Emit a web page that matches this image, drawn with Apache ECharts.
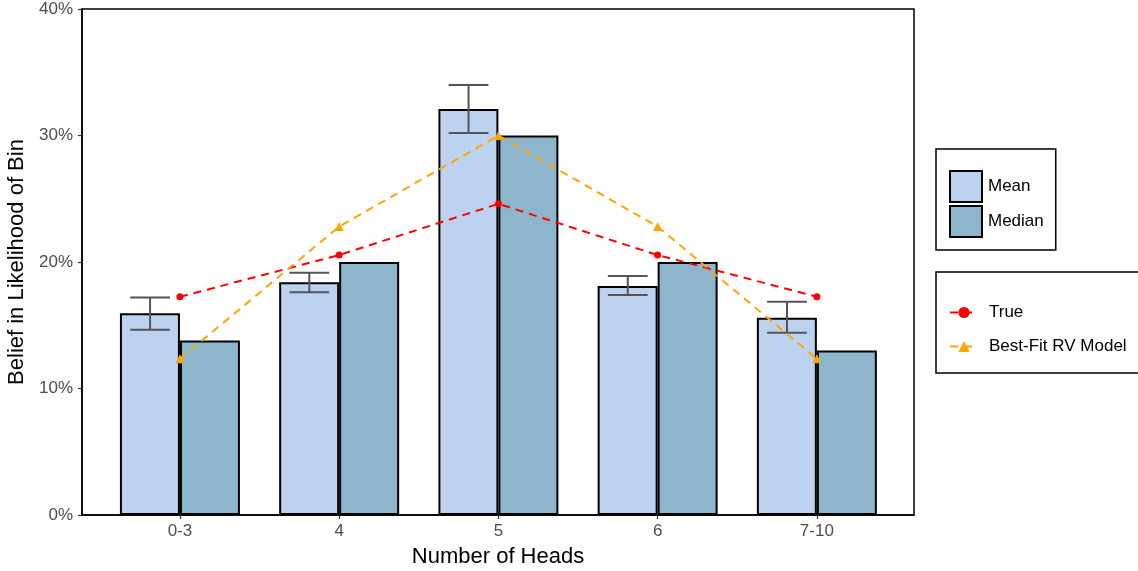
<!DOCTYPE html>
<html><head><meta charset="utf-8">
<script src="https://cdn.jsdelivr.net/npm/echarts@6/dist/echarts.min.js"></script>
<style>html,body{margin:0;padding:0;background:#fff}#c{width:1138px;height:571px}</style>
</head><body><div id="c"></div>
<script>
var categories = ['0-3', '4', '5', '6', '7-10'];
var meanVals = [15.95, 18.4, 32.1, 18.1, 15.6];
var errHigh = [17.2, 19.15, 34.0, 18.9, 16.85];
var errLow = [14.65, 17.6, 30.2, 17.4, 14.4];
var medianVals = [13.8, 20.0, 30.0, 20.0, 13.0];
var trueVals = [17.25, 20.55, 24.6, 20.55, 17.25];
var fitVals = [12.35, 22.8, 30.0, 22.8, 12.35];
var yTicks = [0, 10, 20, 30, 40];

var pos = categories.map(function (c, i) { return i + 1; });
var DODGE = 0.1875;
var FONT = '"Liberation Sans", Arial, sans-serif';

var chart = echarts.init(document.getElementById('c'), null, {renderer: 'canvas'});
chart.setOption({
  animation: false,
  backgroundColor: '#fff',
  grid: {left: 82, right: 224, top: 9, bottom: 56, outerBoundsMode: 'none', containLabel: false,
    show: true, borderColor: '#000', borderWidth: 1.5, backgroundColor: 'transparent'},
  xAxis: {
    type: 'value', min: 0.385, max: 5.61,
    name: 'Number of Heads', nameLocation: 'middle', nameGap: 31,
    nameTextStyle: {fontFamily: FONT, fontSize: 22, color: '#000'},
    splitLine: {show: false},
    axisLine: {show: true, onZero: false, lineStyle: {color: '#000', width: 1.5}},
    axisTick: {show: true, customValues: pos, length: 4, lineStyle: {color: '#333', width: 1.2}},
    axisLabel: {customValues: pos, color: '#4d4d4d', fontFamily: FONT, fontSize: 17, margin: 8,
      formatter: function (v) { return categories[Math.round(v) - 1] || ''; }}
  },
  yAxis: {
    type: 'value', min: 0, max: 40, interval: 10,
    name: 'Belief in Likelihood of Bin', nameLocation: 'middle', nameGap: 41, nameRotate: 90,
    nameTextStyle: {fontFamily: FONT, fontSize: 22, color: '#000'},
    splitLine: {show: false},
    axisLine: {show: true, lineStyle: {color: '#000', width: 1.5}},
    axisTick: {show: true, length: 4, lineStyle: {color: '#333', width: 1.2}},
    axisLabel: {color: '#4d4d4d', fontFamily: FONT, fontSize: 17, margin: 9,
      customValues: yTicks, formatter: function (v) { return v + '%'; }}
  },
  legend: [
    {
      data: ['Mean', 'Median'], orient: 'vertical', left: 936, top: 149,
      padding: [21, 12, 12, 13], itemGap: 2, itemWidth: 32, itemHeight: 31,
      borderColor: '#000', borderWidth: 1.5, borderRadius: 0,
      textStyle: {fontFamily: FONT, fontSize: 17, color: '#000', padding: [4, 0, 0, 1]},
      icon: 'rect'
    },
    {
      data: ['True', 'Best-Fit RV Model'], orient: 'vertical', left: 936, top: 272,
      padding: [32, 40, 18, 13], itemGap: 17, itemWidth: 28, itemHeight: 14,
      borderColor: '#000', borderWidth: 1.5, borderRadius: 0,
      textStyle: {fontFamily: FONT, fontSize: 17, color: '#000', padding: [0, 0, 0, 6]}
    }
  ],
  series: [
    {
      name: 'Mean', type: 'bar', barWidth: 60, barGap: '0%',
      itemStyle: {color: '#BCD2EE', borderColor: '#000', borderWidth: 2},
      data: pos.map(function (p, i) { return [p, meanVals[i]]; })
    },
    {
      name: 'Median', type: 'bar', barWidth: 60, barGap: '0%',
      itemStyle: {color: '#8DB5CB', borderColor: '#000', borderWidth: 2},
      data: pos.map(function (p, i) { return [p, medianVals[i]]; })
    },
    {
      name: 'err', type: 'custom', z: 5,
      data: pos.map(function (p, i) { return [p - DODGE, errLow[i], errHigh[i]]; }),
      renderItem: function (params, api) {
        var x = api.value(0);
        var lo = api.coord([x, api.value(1)]);
        var hi = api.coord([x, api.value(2)]);
        var hw = api.size([0.125, 0])[0];
        var st = {stroke: '#555', lineWidth: 2};
        return {type: 'group', children: [
          {type: 'line', shape: {x1: lo[0], y1: lo[1], x2: hi[0], y2: hi[1]}, style: st},
          {type: 'line', shape: {x1: lo[0] - hw, y1: lo[1], x2: lo[0] + hw, y2: lo[1]}, style: st},
          {type: 'line', shape: {x1: hi[0] - hw, y1: hi[1], x2: hi[0] + hw, y2: hi[1]}, style: st}
        ]};
      }
    },
    {
      name: 'True', type: 'line', z: 6, symbol: 'circle', symbolSize: 7,
      lineStyle: {color: '#FF0000', width: 2, type: [8, 6]},
      itemStyle: {color: '#FF0000'},
      data: pos.map(function (p, i) { return [p, trueVals[i]]; })
    },
    {
      name: 'Best-Fit RV Model', type: 'line', z: 6, symbol: 'triangle', symbolSize: 9,
      lineStyle: {color: '#FFA500', width: 2, type: [8, 6]},
      itemStyle: {color: '#FFA500'},
      data: pos.map(function (p, i) { return [p, fitVals[i]]; })
    }
  ]
});
</script></body></html>
